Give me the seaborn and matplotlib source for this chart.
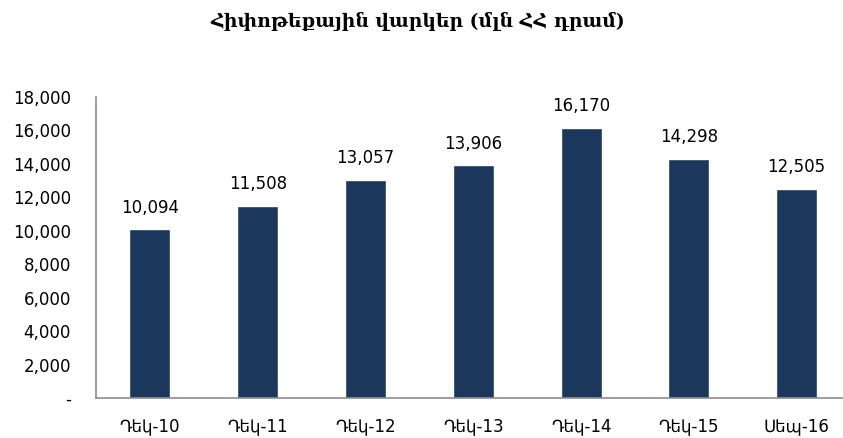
import matplotlib
matplotlib.use("Agg")
import matplotlib.pyplot as plt
import seaborn as sns
import pandas as pd
from matplotlib.ticker import FuncFormatter

# տվյալներ
periods = ["Դեկ-10", "Դեկ-11", "Դեկ-12", "Դեկ-13", "Դեկ-14", "Դեկ-15", "Սեպ-16"]
loans = [10094, 11508, 13057, 13906, 16170, 14298, 12505]
title = "Հիփոթեքային վարկեր (մլն ՀՀ դրամ)"

df = pd.DataFrame({"period": periods, "loans": loans})

sns.set_theme(style="white")
plt.rcParams["font.family"] = ["DejaVu Sans"]
plt.rcParams["text.color"] = "black"

fig = plt.figure(figsize=(8.43, 4.38), dpi=100)
ax = fig.add_axes([96 / 843, 40 / 438, 747 / 843, 301 / 438])

sns.barplot(data=df, x="period", y="loans", color="#1b375c", saturation=1,
            width=0.38, ax=ax)

for i, v in enumerate(loans):
    ax.annotate(f"{v:,}", (i, v), xytext=(0, 12), textcoords="offset points",
                ha="center", va="baseline", fontsize=12, color="black")

ax.set_ylim(0, 18000)
ax.set_xlim(-0.5, 6.43)
ax.set_yticks(range(0, 18001, 2000))
ax.yaxis.set_major_formatter(FuncFormatter(lambda v, p: "-" if v == 0 else f"{int(v):,}"))
ax.set_xlabel("")
ax.set_ylabel("")
ax.tick_params(axis="y", length=0, pad=18, labelsize=12, labelcolor="black")
ax.tick_params(axis="x", length=0, pad=14, labelsize=12, labelcolor="black")

for s in ["top", "right"]:
    ax.spines[s].set_visible(False)
for s in ["left", "bottom"]:
    ax.spines[s].set_color("#8c8c8c")
    ax.spines[s].set_linewidth(1.2)

fig.text(418 / 843, 1 - 21 / 438, title, ha="center", va="center", color="black",
         fontsize=13.5, fontweight="bold", family=["DejaVu Serif", "DejaVu Sans"])

fig.savefig("out.png", dpi=100)
